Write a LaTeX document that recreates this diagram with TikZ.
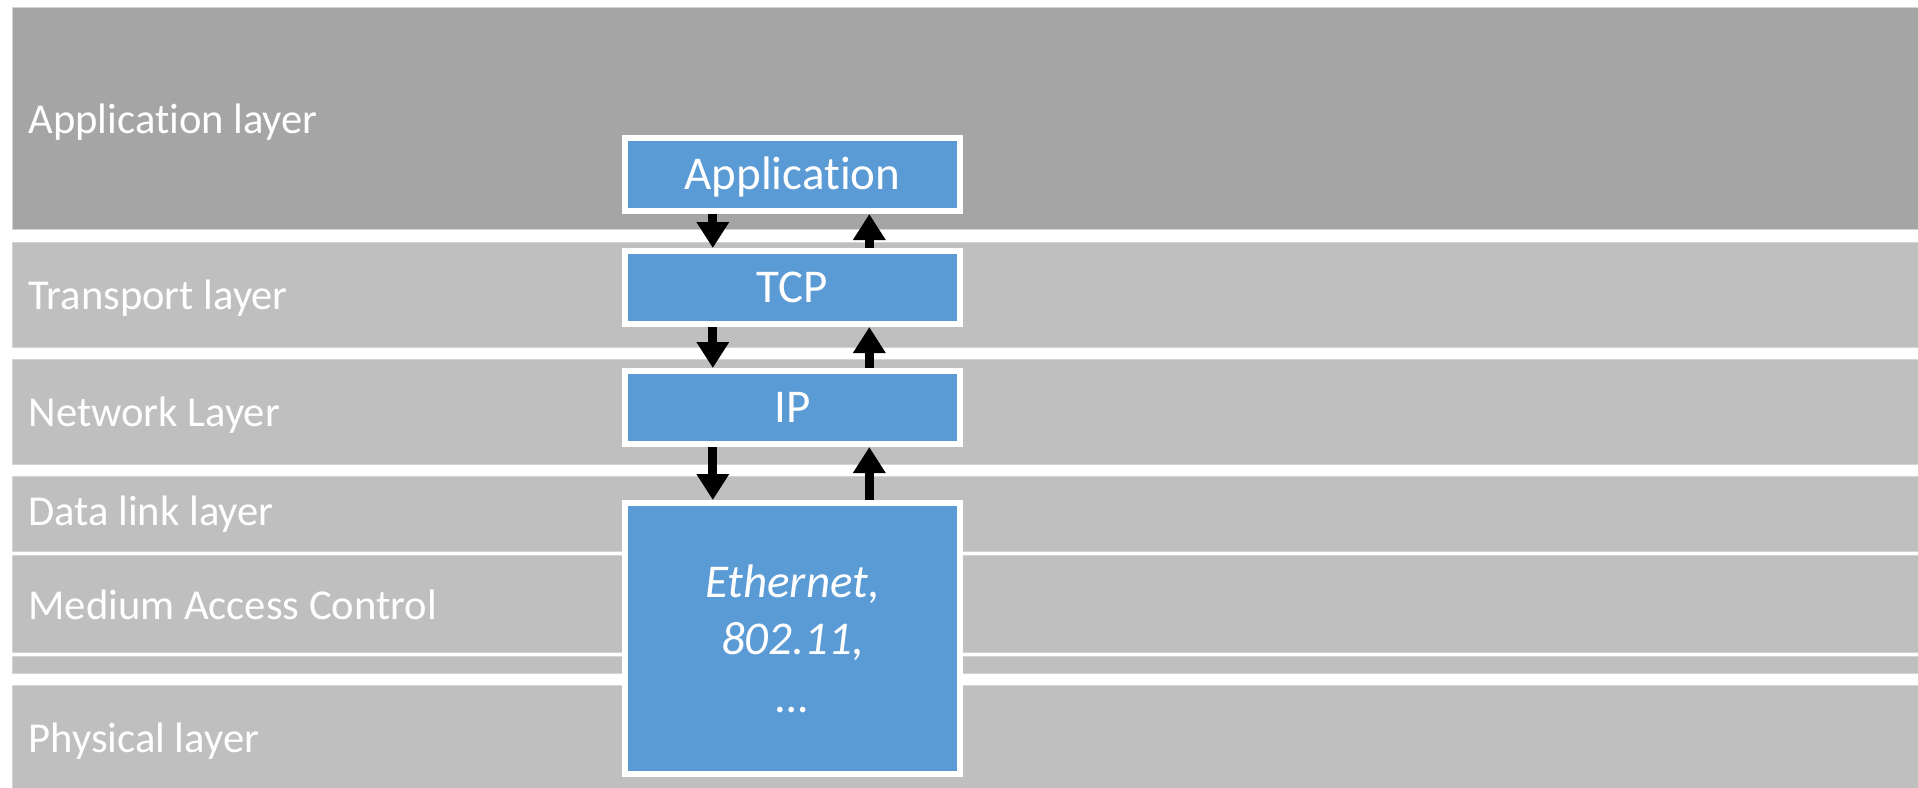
\documentclass[tikz,border=0pt]{standalone}
\usepackage{fontspec}
\setmainfont{Carlito}[Ligatures=NoCommon]
\usetikzlibrary{arrows.meta}
\definecolor{bandA}{HTML}{A5A5A5}
\definecolor{bandB}{HTML}{BFBFBF}
\definecolor{boxblue}{HTML}{5B9BD5}
\definecolor{bandedge}{HTML}{D4D4D4}
\begin{document}
\begin{tikzpicture}[x=1pt,y=-1pt,
  band/.style={fill=bandB, draw=bandedge, line width=1pt},
  layerlabel/.style={anchor=base west, inner sep=0pt, outer sep=0pt, text=white, font=\fontsize{42.6}{50}\selectfont},
  proto/.style={rectangle, fill=boxblue, draw=white, line width=6pt, minimum width=335pt, minimum height=73pt, inner sep=0pt, text=white, text height=30.3pt, text depth=0pt, font=\fontsize{47}{57.5}\selectfont},
  protobig/.style={rectangle, fill=boxblue, draw=white, line width=6pt, minimum width=335pt, minimum height=271pt, inner sep=0pt, text=white, align=center, font=\fontsize{47}{57.5}\selectfont\itshape},
  flow/.style={line width=8.7pt, -{Triangle[width=31pt,length=26pt]}}
]
\useasboundingbox[fill=white] (0,0) rectangle (1918,787);
% layer bands
\path[band, fill=bandA] (12.5,7) rectangle (1930,229);
\path[band] (12.5,242) rectangle (1930,347);
\path[band] (12.5,359) rectangle (1930,464);
\path[band] (12.5,476) rectangle (1930,551);
\path[band] (12.5,555) rectangle (1930,652);
\path[band] (12.5,656) rectangle (1930,673);
\path[band] (12.5,685) rectangle (1930,800);
% layer labels
\node[layerlabel] (lapp) at (28.5,133) {Application layer};
\node[layerlabel] (ltrans) at (28.5,309) {Transport layer};
\node[layerlabel] (lnet) at (28.5,426) {Network Layer};
\node[layerlabel] (ldl) at (28.5,525) {Data link layer};
\node[layerlabel] (lmac) at (28.5,619) {Medium Access Control};
\node[layerlabel] (lphy) at (28.5,752) {Physical layer};
% protocol boxes
\node[proto] (app) at (792.5,174.5) {Application};
\node[proto] (tcp) at (792.5,287.5) {TCP};
\node[proto] (ip) at (792.5,407.5) {IP};
\node[protobig] (eth) at (792.5,638.5) {Ethernet,\\802.11,\\…};
% arrows
\draw[flow] ([xshift=-79.7pt]app.south) -- ([xshift=-79.7pt]tcp.north);
\draw[flow] ([xshift=76.8pt]tcp.north) -- ([xshift=76.8pt]app.south);
\draw[flow] ([xshift=-79.7pt]tcp.south) -- ([xshift=-79.7pt]ip.north);
\draw[flow] ([xshift=76.8pt]ip.north) -- ([xshift=76.8pt]tcp.south);
\draw[flow] ([xshift=-79.7pt]ip.south) -- ([xshift=-79.7pt]eth.north);
\draw[flow] ([xshift=76.8pt]eth.north) -- ([xshift=76.8pt]ip.south);
\end{tikzpicture}
\end{document}
